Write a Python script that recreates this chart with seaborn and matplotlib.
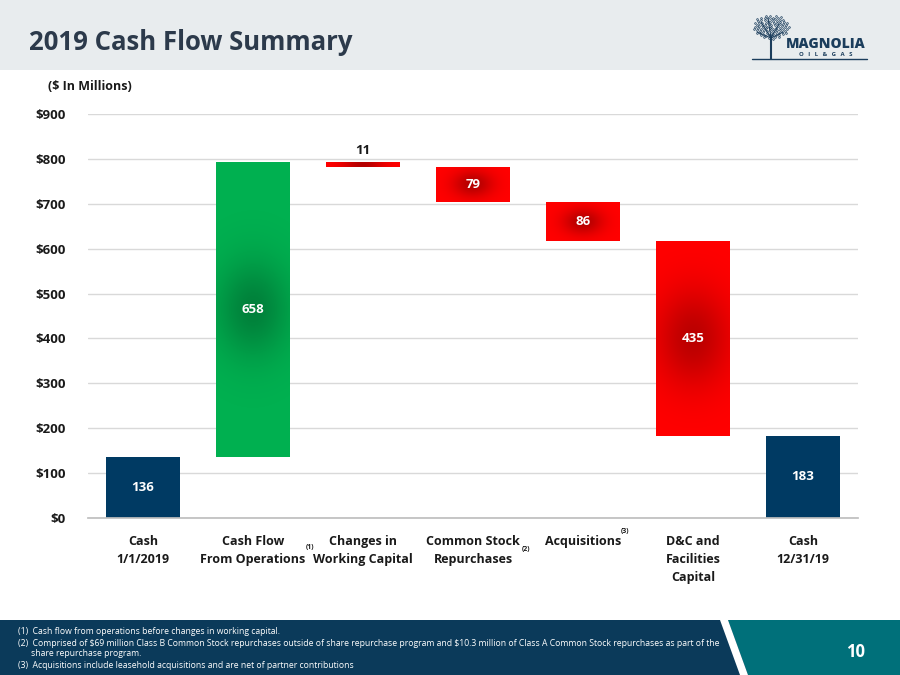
import numpy as np
import pandas as pd
import matplotlib
matplotlib.use('Agg')
import matplotlib.pyplot as plt
from matplotlib.patches import Rectangle, Polygon
from matplotlib.transforms import blended_transform_factory
import seaborn as sns

# chart data ($ millions)
steps = ['Cash\n1/1/2019', 'Cash Flow\nFrom Operations', 'Changes in\nWorking Capital',
         'Common Stock\nRepurchases', 'Acquisitions', 'D&C and\nFacilities\nCapital',
         'Cash\n12/31/19']
amounts = [136, 658, -11, -79, -86, -435, 183]
kinds = ['total', 'up', 'down', 'down', 'down', 'down', 'total']
labels = ['136', '658', '11', '79', '86', '435', '183']
notes = ['', '(1)', '', '(2)', '(3)', '', '']
footnotes = ['(1)\u2002Cash flow from operations before changes in working capital.',
             '(2)\u2002Comprised of \\$69 million Class B Common Stock repurchases outside of share repurchase program and \\$10.3 million of Class A Common Stock repurchases as part of the',
             '\u2003\u2002share repurchase program.',
             '(3)\u2002Acquisitions include leasehold acquisitions and are net of partner contributions']

# floating bar geometry
bottoms, heights = [], []
running = 0
for a, k in zip(amounts, kinds):
    if k == 'total':
        bottoms.append(0)
        heights.append(a)
        running = a
    else:
        start = running
        running = running + a
        bottoms.append(min(start, running))
        heights.append(abs(a))

df = pd.DataFrame({'step': steps, 'height': heights, 'bottom': bottoms, 'kind': kinds, 'label': labels})

colors = {'total': '#003A63', 'up': '#00B050', 'down': '#FF0000'}

sns.set_theme(style='white')
plt.rcParams['font.family'] = ['Open Sans', 'DejaVu Sans']

fig = plt.figure(figsize=(9, 6.75), dpi=100)

# header band
fig.patches.append(Rectangle((0, 1 - 70 / 675), 1, 70 / 675, transform=fig.transFigure,
                             facecolor='#E8ECEE', edgecolor='none', zorder=0))
fig.text(29 / 900, 1 - 43 / 675, '2019 Cash Flow Summary', fontsize=18.5, fontweight='bold',
         color='#2C3A4B', va='center', ha='left')

# footer band
fig.patches.append(Rectangle((0, 0), 1, 55 / 675, transform=fig.transFigure,
                             facecolor='#0B3A5A', edgecolor='none', zorder=0))
fig.patches.append(Polygon([(728 / 900, 55 / 675), (1, 55 / 675), (1, 0), (748 / 900, 0)],
                           closed=True, transform=fig.transFigure, facecolor='#00707A',
                           edgecolor='none', zorder=1))
fig.patches.append(Polygon([(720 / 900, 55 / 675), (728 / 900, 55 / 675), (748 / 900, 0), (740 / 900, 0)],
                           closed=True, transform=fig.transFigure, facecolor='white',
                           edgecolor='none', zorder=2))
fig.text(856 / 900, 1 - 652 / 675, '10', fontsize=12, fontweight='bold', color='white',
         ha='center', va='center')
for i, note in enumerate(footnotes):
    y = [631, 643, 654, 666][i]
    fig.text(18 / 900, 1 - y / 675, note, fontsize=6.2, color='white', va='center', ha='left')

# logo
fig.text(826 / 900, 1 - 44 / 675, 'MAGNOLIA', fontsize=10, fontweight='heavy', color='#1B3D5C',
         ha='center', va='center')
fig.text(826 / 900, 1 - 55 / 675, 'O   I   L   &   G   A   S', fontsize=4.3, fontweight='bold',
         color='#1B3D5C', ha='center', va='center')
fig.add_artist(plt.Line2D([752 / 900, 867 / 900], [1 - 59 / 675, 1 - 59 / 675],
                          transform=fig.transFigure, color='#1B3D5C', lw=1))
fig.add_artist(plt.Line2D([771 / 900, 771 / 900], [1 - 59 / 675, 1 - 36 / 675],
                          transform=fig.transFigure, color='#1B3D5C', lw=1.5))
for dx, dy in [(-10, -16), (8, -14), (-3, -20), (12, -6), (-14, -6)]:
    fig.add_artist(plt.Line2D([771 / 900, (771 + dx) / 900], [1 - 38 / 675, 1 - (38 + dy) / 675],
                              transform=fig.transFigure, color='#1B3D5C', lw=0.7))
n = np.arange(90)
ang = n * 2.39996
rad = np.sqrt(n / 90)
fig.add_artist(plt.Line2D((771 + 18 * rad * np.cos(ang)) / 900,
                          1 - (27 + 12 * rad * np.sin(ang)) / 675,
                          transform=fig.transFigure, ls='none', marker='o', ms=1.2,
                          mfc='none', mec='#1B3D5C', mew=0.5))

# chart
ax = fig.add_axes([88 / 900, 1 - 518 / 675, 770 / 900, 404 / 675])
ax.set_facecolor('none')
sns.barplot(data=df, x='step', y='height', order=steps, bottom=df['bottom'].values,
            width=0.67, ax=ax, color=colors['total'], errorbar=None, zorder=2)
for patch, k in zip(ax.patches, kinds):
    patch.set_facecolor(colors[k])
    patch.set_edgecolor('none')

# soft dark shadow behind the value on the coloured bars
px_x, px_y = 110.0, 404 / 900
for i, (patch, k) in enumerate(zip(ax.patches, kinds)):
    if k == 'total':
        continue
    x0, w = patch.get_x(), patch.get_width()
    y0, h = patch.get_y(), patch.get_height()
    tall = h * px_y > 80
    sx, sy, amax = (26, 34, 0.27) if tall else (14, 9, 0.3)
    gx = np.linspace(x0, x0 + w, 80)
    gy = np.linspace(y0, y0 + h, 300)
    X, Y = np.meshgrid(gx, gy)
    d2 = (((X - (x0 + w / 2)) * px_x) / sx) ** 2 + (((Y - (y0 + h / 2)) * px_y) / sy) ** 2
    img = np.zeros((300, 80, 4))
    img[..., 3] = amax * np.exp(-d2 / 2)
    im = ax.imshow(img, extent=(x0, x0 + w, y0, y0 + h), origin='lower', aspect='auto',
                   zorder=2.5, interpolation='bilinear')
    im.set_clip_path(patch)

for i, (b, h, lab) in enumerate(zip(bottoms, heights, labels)):
    if h < 30:
        ax.text(i, b + h + 10, lab, ha='center', va='bottom', fontsize=9.5, fontweight='bold',
                color='#1A1A1A', zorder=4)
    else:
        ax.text(i, b + h / 2, lab, ha='center', va='center', fontsize=9.5, fontweight='bold',
                color='white', zorder=4)

ax.set_xlim(-0.5, len(steps) - 0.5)
ax.set_ylim(0, 900)
ax.set_yticks(range(0, 901, 100))
ax.set_yticklabels([f'${v}' for v in range(0, 901, 100)], fontsize=9.5, fontweight='bold',
                   color='#1A1A1A')
ax.yaxis.grid(True, color='#D9D9D9', lw=1, zorder=0)
ax.set_axisbelow(True)
ax.set_xlabel('')
ax.set_ylabel('')
for s in ['top', 'right', 'left']:
    ax.spines[s].set_visible(False)
ax.spines['bottom'].set_color('#BFBFBF')
ax.tick_params(axis='y', length=0, pad=16)
ax.set_xticks(range(len(steps)))
ax.set_xticklabels(steps, fontsize=9, fontweight='bold', color='#1A1A1A', linespacing=1.5)
ax.tick_params(axis='x', which='major', length=0, pad=12)
ax.set_xticks(np.arange(0.5, len(steps) - 0.5), minor=True)
ax.tick_params(axis='x', which='minor', length=6, color='#BFBFBF', width=1)

# superscript footnote marks next to tick labels
sup_pos = {1: (0.48, 547), 3: (0.445, 550), 4: (0.34, 532)}
btrans = blended_transform_factory(ax.transData, fig.transFigure)
for i, note in enumerate(notes):
    if note:
        dx, ypx = sup_pos[i]
        ax.text(i + dx, 1 - ypx / 675, note, transform=btrans,
                fontsize=5, fontweight='bold', color='#1A1A1A', ha='left', va='center')

fig.text(48 / 900, 1 - 87 / 675, '($ In Millions)', fontsize=9, fontweight='bold',
         color='#1A1A1A', ha='left', va='center')

fig.savefig('out.png', dpi=100)
